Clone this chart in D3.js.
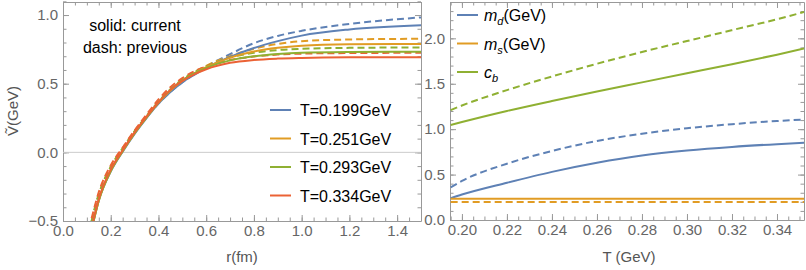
<!DOCTYPE html>
<html>
<head>
<meta charset="utf-8">
<script src="https://cdn.jsdelivr.net/npm/d3@7.9.0/dist/d3.min.js"></script>
<style>
  body { margin: 0; background: #fff; }
  svg { display: block; font-family: "Liberation Sans", Arial, sans-serif; }
  .tick text { fill: #666; font-size: 15px; }
  .tick line { stroke: #999; }
  .domain { stroke: #999; }
</style>
</head>
<body>
<svg id="chart" width="806" height="270"></svg>
<script>
// left panel: potential vs r
const rGrid = [0.12, 0.15, 0.2, 0.25, 0.3, 0.35, 0.4, 0.45, 0.5, 0.55, 0.6, 0.7, 0.8, 0.9, 1.0, 1.2, 1.5];
const temps = ['0.199', '0.251', '0.293', '0.334'];
const v199Cur = [-0.56, -0.35, -0.14, 0.005, 0.135, 0.25, 0.355, 0.44, 0.51, 0.565, 0.615, 0.695, 0.76, 0.81, 0.85, 0.895, 0.925];
const v199Prev = [-0.50, -0.31, -0.115, 0.02, 0.145, 0.255, 0.355, 0.44, 0.51, 0.57, 0.625, 0.715, 0.795, 0.848, 0.885, 0.935, 0.983];
const v251Cur = [-0.56, -0.35, -0.135, 0.01, 0.14, 0.255, 0.36, 0.45, 0.52, 0.575, 0.62, 0.69, 0.735, 0.762, 0.777, 0.787, 0.79];
const v251Prev = [-0.50, -0.31, -0.11, 0.025, 0.15, 0.26, 0.365, 0.455, 0.525, 0.58, 0.63, 0.70, 0.755, 0.79, 0.81, 0.822, 0.827];
const v293Cur = [-0.56, -0.35, -0.135, 0.01, 0.14, 0.255, 0.365, 0.455, 0.525, 0.575, 0.615, 0.67, 0.70, 0.717, 0.726, 0.731, 0.733];
const v293Prev = [-0.50, -0.305, -0.105, 0.03, 0.155, 0.265, 0.37, 0.46, 0.53, 0.585, 0.625, 0.69, 0.725, 0.745, 0.754, 0.761, 0.764];
const v334Cur = [-0.55, -0.34, -0.125, 0.015, 0.145, 0.26, 0.365, 0.455, 0.52, 0.568, 0.605, 0.652, 0.673, 0.683, 0.688, 0.692, 0.693];
const v334Prev = [-0.48, -0.29, -0.095, 0.035, 0.16, 0.275, 0.385, 0.475, 0.54, 0.59, 0.625, 0.672, 0.698, 0.712, 0.719, 0.723, 0.725];

// right panel: parameters vs T
const tGrid = [0.195, 0.20, 0.22, 0.24, 0.26, 0.28, 0.30, 0.32, 0.34, 0.352];
const mdCur = [0.24, 0.28, 0.41, 0.53, 0.63, 0.71, 0.765, 0.805, 0.835, 0.85];
const mdPrev = [0.36, 0.43, 0.62, 0.76, 0.87, 0.95, 1.01, 1.055, 1.09, 1.107];
const msCur = [0.235, 0.235, 0.235, 0.235, 0.235, 0.235, 0.235, 0.235, 0.235, 0.235];
const msPrev = [0.197, 0.197, 0.197, 0.197, 0.197, 0.197, 0.197, 0.197, 0.197, 0.197];
const cbCur = [1.045, 1.078, 1.20, 1.31, 1.415, 1.515, 1.615, 1.715, 1.82, 1.887];
const cbPrev = [1.21, 1.26, 1.43, 1.58, 1.72, 1.85, 1.97, 2.09, 2.21, 2.29];

const colors = ['#5E81B5', '#E19C24', '#8FB032', '#EB6235'];

const svg = d3.select('#chart');

const leftX = d3.scaleLinear().domain([0, 1.5]).range([63, 421]);
const leftY = d3.scaleLinear().domain([-0.5, 1.095]).range([221, 2]);
const rightX = d3.scaleLinear().domain([0.1947, 0.352]).range([450, 804]);
const rightY = d3.scaleLinear().domain([0, 2.4]).range([220, 2]);

function drawFrame(x, y, xMajor, xMinor, yMajor, yMinor, xFmt, yFmt, id) {
  const [x0, x1] = x.range();
  const [y0, y1] = y.range();
  const g = svg.append('g');

  g.append('g').attr('transform', `translate(0,${y0})`)
    .call(d3.axisBottom(x).tickValues(xMajor).tickFormat(d3.format(xFmt)).tickSizeInner(-6).tickSizeOuter(0).tickPadding(4));
  g.append('g').attr('transform', `translate(0,${y0})`)
    .call(d3.axisBottom(x).tickValues(xMinor).tickFormat('').tickSizeInner(-3.5).tickSizeOuter(0))
    .call((a) => a.select('.domain').remove());
  g.append('g').attr('transform', `translate(0,${y1})`)
    .call(d3.axisTop(x).tickValues(xMajor).tickFormat('').tickSizeInner(-6).tickSizeOuter(0));
  g.append('g').attr('transform', `translate(0,${y1})`)
    .call(d3.axisTop(x).tickValues(xMinor).tickFormat('').tickSizeInner(-3.5).tickSizeOuter(0))
    .call((a) => a.select('.domain').remove());

  g.append('g').attr('transform', `translate(${x0},0)`)
    .call(d3.axisLeft(y).tickValues(yMajor).tickFormat(d3.format(yFmt)).tickSizeInner(-6).tickSizeOuter(0).tickPadding(5));
  g.append('g').attr('transform', `translate(${x0},0)`)
    .call(d3.axisLeft(y).tickValues(yMinor).tickFormat('').tickSizeInner(-3.5).tickSizeOuter(0))
    .call((a) => a.select('.domain').remove());
  g.append('g').attr('transform', `translate(${x1},0)`)
    .call(d3.axisRight(y).tickValues(yMajor).tickFormat('').tickSizeInner(-6).tickSizeOuter(0));
  g.append('g').attr('transform', `translate(${x1},0)`)
    .call(d3.axisRight(y).tickValues(yMinor).tickFormat('').tickSizeInner(-3.5).tickSizeOuter(0))
    .call((a) => a.select('.domain').remove());

  svg.append('clipPath').attr('id', id)
    .append('rect').attr('x', x0).attr('y', y1).attr('width', x1 - x0).attr('height', y0 - y1);
  return g;
}

function minorTicks(lo, hi, step) {
  return d3.range(Math.round(lo / step), Math.round(hi / step) + 1).map((k) => k * step);
}

drawFrame(leftX, leftY,
  [0, 0.2, 0.4, 0.6, 0.8, 1.0, 1.2, 1.4], minorTicks(0, 1.5, 0.05),
  [-0.5, 0, 0.5, 1.0], minorTicks(-0.5, 1.05, 0.1),
  '.1f', '.1f', 'clipL');

drawFrame(rightX, rightY,
  [0.20, 0.22, 0.24, 0.26, 0.28, 0.30, 0.32, 0.34], minorTicks(0.195, 0.350, 0.005),
  [0, 0.5, 1.0, 1.5, 2.0], minorTicks(0, 2.35, 0.1),
  '.2f', '.1f', 'clipR');

// zero gridline on the left panel
svg.append('line')
  .attr('x1', leftX(0)).attr('x2', leftX(1.5))
  .attr('y1', leftY(0)).attr('y2', leftY(0))
  .attr('stroke', '#ccc').attr('stroke-width', 1);

function drawSeries(xs, ys, x, y, color, dashed, clip) {
  const line = d3.line()
    .x((d) => x(d[0]))
    .y((d) => y(d[1]))
    .curve(d3.curveMonotoneX);
  svg.append('path')
    .attr('clip-path', `url(#${clip})`)
    .attr('d', line(xs.map((v, i) => [v, ys[i]])))
    .attr('fill', 'none')
    .attr('stroke', color)
    .attr('stroke-width', 2)
    .attr('stroke-dasharray', dashed ? '7,4' : null);
}

const prevSeries = [v199Prev, v251Prev, v293Prev, v334Prev];
const curSeries = [v199Cur, v251Cur, v293Cur, v334Cur];
prevSeries.forEach((s, i) => drawSeries(rGrid, s, leftX, leftY, colors[i], true, 'clipL'));
curSeries.forEach((s, i) => drawSeries(rGrid, s, leftX, leftY, colors[i], false, 'clipL'));

drawSeries(tGrid, mdPrev, rightX, rightY, colors[0], true, 'clipR');
drawSeries(tGrid, msPrev, rightX, rightY, colors[1], true, 'clipR');
drawSeries(tGrid, cbPrev, rightX, rightY, colors[2], true, 'clipR');
drawSeries(tGrid, mdCur, rightX, rightY, colors[0], false, 'clipR');
drawSeries(tGrid, msCur, rightX, rightY, colors[1], false, 'clipR');
drawSeries(tGrid, cbCur, rightX, rightY, colors[2], false, 'clipR');

// notes and axis labels
const note = svg.append('g').attr('font-size', 16).attr('fill', '#000').attr('text-anchor', 'middle');
note.append('text').attr('x', 135).attr('y', 31).text('solid: current');
note.append('text').attr('x', 135).attr('y', 53).text('dash: previous');

svg.append('text')
  .attr('transform', 'translate(18,111) rotate(-90)')
  .attr('text-anchor', 'middle').attr('font-size', 15).attr('fill', '#555')
  .text('V\u0303(GeV)');
svg.append('text')
  .attr('x', 242).attr('y', 262).attr('text-anchor', 'middle')
  .attr('font-size', 15).attr('fill', '#555').text('r(fm)');
svg.append('text')
  .attr('x', 629).attr('y', 262).attr('text-anchor', 'middle')
  .attr('font-size', 15).attr('fill', '#555').text('T (GeV)');

// legend, left panel
const legL = svg.append('g');
temps.forEach((t, i) => {
  const yy = 110 + i * 28.5;
  legL.append('line').attr('x1', 270).attr('x2', 291).attr('y1', yy).attr('y2', yy)
    .attr('stroke', colors[i]).attr('stroke-width', 2);
  legL.append('text').attr('x', 300).attr('y', yy + 6).attr('font-size', 16).attr('fill', '#000')
    .text(`T=${t}GeV`);
});

// legend, right panel
const legendR = [
  { name: 'm', sub: 'd', unit: '(GeV)' },
  { name: 'm', sub: 's', unit: '(GeV)' },
  { name: 'c', sub: 'b', unit: '' }
];
legendR.forEach((d, i) => {
  const yy = 15 + i * 28.5;
  svg.append('line').attr('x1', 457).attr('x2', 478).attr('y1', yy).attr('y2', yy)
    .attr('stroke', colors[i]).attr('stroke-width', 2);
  const txt = svg.append('text').attr('x', 484).attr('y', yy + 6).attr('font-size', 16).attr('fill', '#000');
  txt.append('tspan').attr('font-style', 'italic').text(d.name);
  txt.append('tspan').attr('font-style', 'italic').attr('font-size', 11).attr('dy', 4).text(d.sub);
  if (d.unit) txt.append('tspan').attr('dy', -4).text(d.unit);
});
</script>
</body>
</html>
